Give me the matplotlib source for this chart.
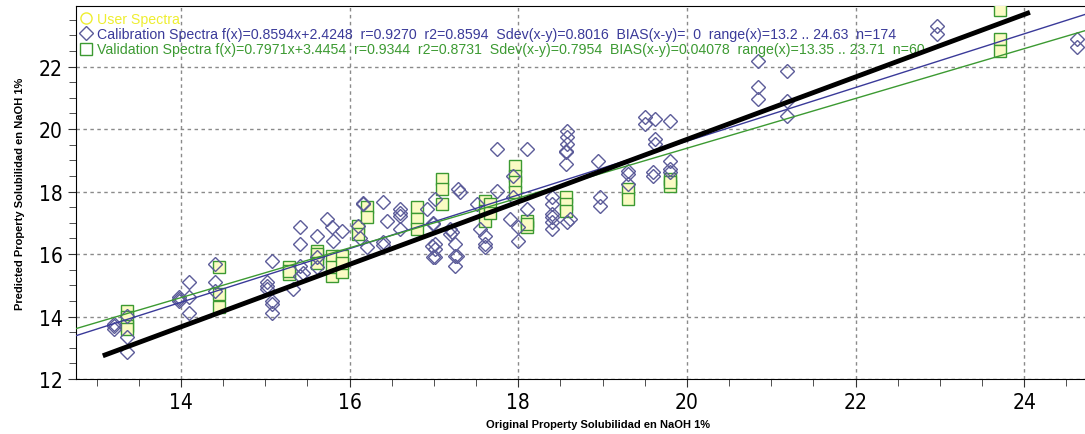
import matplotlib
matplotlib.use("Agg")
import matplotlib.pyplot as plt
from matplotlib.lines import Line2D
from matplotlib.ticker import MultipleLocator

# ========================================
# DATA
# ========================================
cal_x = [13.2, 13.2, 13.2, 13.36, 13.36, 13.36,
         13.98, 13.98, 13.98, 14.1, 14.1, 14.1,
         14.4, 14.4, 14.4,
         15.08, 15.02, 15.02, 15.08, 15.08, 15.02, 15.08,
         15.33, 15.41, 15.41, 15.41, 15.41, 15.45,
         15.61, 15.61, 15.61, 15.73, 15.79, 15.91, 15.8,
         16.16, 16.16, 16.21, 16.1, 16.12,
         16.4, 16.44, 16.4, 16.4,
         16.6, 16.6, 16.6, 16.6,
         16.92, 17.01, 16.99, 16.99, 16.98, 16.99, 17.01, 17.01, 17.01,
         17.29, 17.19, 17.19, 17.21, 17.25, 17.25, 17.27, 17.25,
         17.31, 17.51, 17.55, 17.61, 17.61, 17.61, 17.75, 17.75,
         17.9, 17.94, 17.94, 18.0, 18.0, 18.1, 18.1,
         18.4, 18.4, 18.4, 18.4, 18.4, 18.4,
         18.58, 18.58, 18.58, 18.56, 18.56, 18.56, 18.61, 18.58,
         18.95, 18.97, 18.97,
         19.3, 19.3, 19.3,
         19.5, 19.5, 19.62, 19.8, 19.62, 19.62, 19.6, 19.6,
         19.8, 19.8, 19.8,
         20.84, 20.84, 20.84, 21.19, 21.19, 21.19,
         22.97, 22.97, 24.63, 24.63]
cal_y = [13.76, 13.7, 13.6, 13.34, 12.86, 14.02,
         14.62, 14.5, 14.55, 15.1, 14.62, 14.1,
         15.68, 15.1, 14.82,
         15.78, 15.1, 14.88, 14.5, 14.1, 14.98, 14.4,
         14.88, 16.86, 16.32, 15.3, 15.62, 15.4,
         16.58, 15.9, 15.6, 17.12, 16.86, 16.74, 16.42,
         17.6, 17.62, 16.22, 16.9, 16.5,
         17.66, 17.06, 16.38, 16.3,
         17.44, 17.22, 16.8, 17.3,
         17.44, 17.76, 16.96, 16.98, 16.26, 15.9, 16.32, 16.16, 15.92,
         18.08, 16.64, 16.8, 16.7, 16.32, 15.94, 15.94, 15.62,
         18.0, 17.6, 16.8, 16.58, 16.32, 16.22, 18.02, 19.36,
         17.12, 18.5, 17.82, 16.86, 16.42, 19.36, 17.44,
         17.82, 17.6, 17.28, 17.02, 16.8, 17.18,
         19.94, 19.74, 19.52, 19.26, 19.3, 18.88, 17.12, 17.02,
         18.98, 17.82, 17.54,
         18.66, 18.56, 18.24,
         20.38, 20.16, 20.32, 20.26, 19.68, 19.52, 18.62, 18.5,
         18.98, 18.72, 18.62,
         22.18, 21.34, 20.96, 21.86, 20.9, 20.42,
         23.3, 23.04, 22.88, 22.62]

val_x = [13.36, 13.36, 13.36, 13.36,
         14.45, 14.45, 14.45,
         15.28, 15.28, 15.28,
         15.61, 15.61, 15.61, 15.61,
         15.79, 15.79, 15.79, 15.91, 15.91, 15.91,
         16.1, 16.1, 16.21, 16.21,
         16.8, 16.8, 16.8,
         17.1, 17.1, 17.1,
         17.61, 17.61, 17.61, 17.66, 17.66,
         17.96, 17.96, 17.96, 17.96,
         18.1, 18.1, 18.1,
         18.56, 18.56, 18.56,
         19.3, 19.3,
         19.8, 19.8, 19.8,
         23.71, 23.71, 23.71]
val_y = [14.18, 13.98, 13.7, 13.6,
         15.58, 14.72, 14.3,
         15.58, 15.36, 15.45,
         16.1, 15.84, 16.0, 15.7,
         15.94, 15.3, 15.6, 15.94, 15.42, 15.7,
         16.9, 16.64, 17.5, 17.18,
         17.5, 17.12, 16.8,
         18.4, 18.08, 17.6,
         17.7, 17.38, 17.06, 17.6, 17.3,
         18.82, 18.5, 18.3, 17.98,
         17.06, 16.86, 16.95,
         17.82, 17.6, 17.38,
         18.08, 17.76,
         18.4, 18.18, 18.3,
         23.8, 22.88, 22.5]

# regression results as printed in the legend
cal_slope, cal_icpt = 0.8594, 2.4248
val_slope, val_icpt = 0.7971, 3.4454

# thick black reference line end points
ref_x = [13.1, 24.04]
ref_y = [12.77, 23.71]

labels = [
    "User Spectra",
    "Calibration Spectra f(x)=0.8594x+2.4248  r=0.9270  r2=0.8594  Sdev(x-y)=0.8016  BIAS(x-y)=  0  range(x)=13.2 .. 24.63  n=174",
    "Validation Spectra f(x)=0.7971x+3.4454  r=0.9344  r2=0.8731  Sdev(x-y)=0.7954  BIAS(x-y)=0.04078  range(x)=13.35 .. 23.71  n=60",
]

XLIM = (12.755, 24.72)
YLIM = (12, 23.94)

BLUE = "#3a3a99"
DIAM = "#5c5c99"
GREEN = "#3c9a32"
YELLOW = "#eeee30"

# ========================================
# PLOT
# ========================================
plt.rcParams["font.family"] = ["Liberation Sans", "DejaVu Sans"]

fig = plt.figure(figsize=(10.85, 4.35), dpi=100)
ax = fig.add_axes([76 / 1085, 55 / 435, 1009 / 1085, 373 / 435])

ax.plot(val_x, val_y, ls="none", marker="s", ms=9, mfc="#fbfbc4", mec=GREEN, mew=1.0, zorder=3)
ax.plot(cal_x, cal_y, ls="none", marker="D", ms=7, mfc="none", mec=DIAM, mew=1.0, zorder=4)

fx = list(XLIM)
ax.plot(fx, [cal_slope * v + cal_icpt for v in fx], color=BLUE, lw=1, zorder=5)
ax.plot(fx, [val_slope * v + val_icpt for v in fx], color=GREEN, lw=1, zorder=5)
ax.plot(ref_x, ref_y, color="black", lw=3.5, zorder=6)

ax.set_xlim(XLIM)
ax.set_ylim(YLIM)
ax.xaxis.set_major_locator(MultipleLocator(2))
ax.xaxis.set_minor_locator(MultipleLocator(0.5))
ax.yaxis.set_major_locator(MultipleLocator(2))
ax.yaxis.set_minor_locator(MultipleLocator(0.5))
ax.tick_params(which="both", direction="out", color="#333333")
ax.tick_params(which="major", length=6, labelsize=15)
ax.tick_params(which="minor", length=5)
for lab in ax.get_xticklabels() + ax.get_yticklabels():
    lab.set_family(["DejaVu Sans"])
    lab.set_stretch("condensed")
ax.grid(True, which="major", color="#8a8a8a", ls=(0, (2.5, 2.5)), lw=1)
ax.spines["right"].set_visible(False)

ax.set_ylabel("Predicted Property Solubilidad en NaOH 1%", fontsize=8, fontweight="bold", labelpad=10)
fig.text(598 / 1085, 10 / 435, "Original Property Solubilidad en NaOH 1%", fontsize=8,
         fontweight="bold", ha="center", va="center")

handles = [
    Line2D([], [], ls="none", marker="o", ms=8, mfc="none", mec=YELLOW),
    Line2D([], [], ls="none", marker="D", ms=7, mfc="none", mec=DIAM),
    Line2D([], [], ls="none", marker="s", ms=9, mfc="none", mec=GREEN),
]
ax.legend(handles, labels, loc="upper left", frameon=False, fontsize=10.2,
          labelcolor=[YELLOW, BLUE, GREEN], handlelength=0.6, handletextpad=0.45,
          borderaxespad=0.2, borderpad=0.2, labelspacing=0.1)

fig.savefig("out.png", dpi=100)
